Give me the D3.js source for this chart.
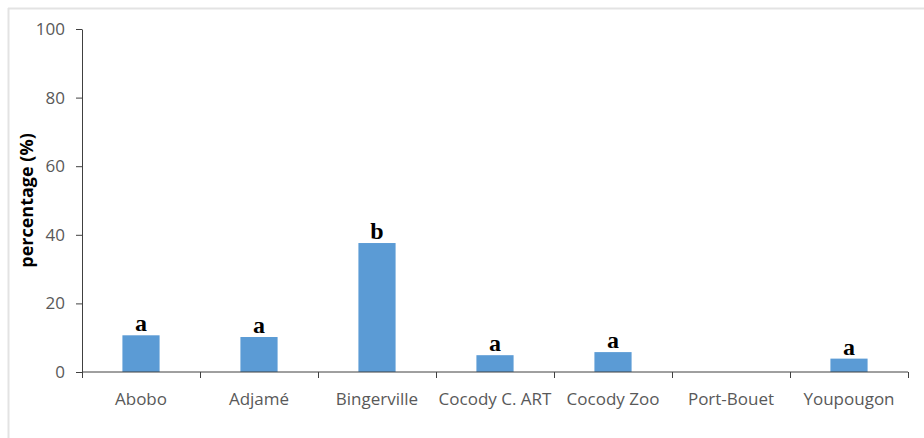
<!DOCTYPE html>
<html>
<head>
<meta charset="utf-8">
<script src="https://cdn.jsdelivr.net/npm/d3@7"></script>
<style>
  body { margin: 0; background: #fff; }
  svg { display: block; }
</style>
</head>
<body>
<script>
// data
const sites = ["Abobo", "Adjamé", "Bingerville", "Cocody C. ART", "Cocody Zoo", "Port-Bouet", "Youpougon"];
const percentages = [10.7, 10.2, 37.6, 4.9, 5.8, 0, 3.9];
const letters = ["a", "a", "b", "a", "a", "", "a"];
const yTicks = [0, 20, 40, 60, 80, 100];

const W = 924, H = 438;
const margin = { top: 29, right: 16, bottom: 66, left: 82 };
const width = W - margin.left - margin.right;
const height = H - margin.top - margin.bottom;

const root = d3.select("body").append("svg")
  .attr("width", W)
  .attr("height", H);

// light frame (top and left edges only, the picture is cropped)
root.append("line").attr("x1", 8).attr("x2", W).attr("y1", 8.5).attr("y2", 8.5)
  .attr("stroke", "#e3e3e3").attr("stroke-width", 2);
root.append("line").attr("x1", 8.5).attr("x2", 8.5).attr("y1", 8).attr("y2", H)
  .attr("stroke", "#e3e3e3").attr("stroke-width", 2);

const svg = root.append("g")
  .attr("transform", `translate(${margin.left},${margin.top})`);

const x = d3.scaleBand()
  .domain(sites)
  .range([0, width])
  .padding(0);

const y = d3.scaleLinear()
  .domain([0, 100])
  .range([height, 0]);

const barW = x.bandwidth() * 0.315;

// bars
svg.selectAll("rect.bar")
  .data(sites)
  .enter().append("rect")
  .attr("class", "bar")
  .attr("x", (d) => x(d) + x.bandwidth() / 2 - barW / 2)
  .attr("width", barW)
  .attr("y", (d, i) => y(percentages[i]))
  .attr("height", (d, i) => height - y(percentages[i]))
  .attr("fill", "#5b9bd5");

// significance letters
svg.selectAll("text.letter")
  .data(sites)
  .enter().append("text")
  .attr("class", "letter")
  .attr("x", (d) => x(d) + x.bandwidth() / 2)
  .attr("y", (d, i) => y(percentages[i]) - 4)
  .attr("text-anchor", "middle")
  .style("font-family", "'Liberation Serif', serif")
  .style("font-weight", "bold")
  .style("font-size", "24px")
  .attr("fill", "#000")
  .text((d, i) => letters[i]);

// y axis
const yAxis = svg.append("g")
  .call(d3.axisLeft(y).tickValues(yTicks).tickSize(6).tickPadding(11).tickSizeOuter(0));
yAxis.select(".domain").attr("stroke", "#404040");
yAxis.selectAll(".tick line").attr("stroke", "#404040");
yAxis.selectAll(".tick text")
  .attr("fill", "#595959")
  .style("font-family", "'Open Sans', sans-serif")
  .style("font-size", "17px");

// x axis: ticks at band edges
const xAxis = svg.append("g")
  .attr("transform", `translate(0,${height})`);
xAxis.append("line")
  .attr("x1", 0).attr("x2", width)
  .attr("stroke", "#404040");
const edges = sites.map((d) => x(d)).concat([width]);
xAxis.selectAll("line.xt")
  .data(edges)
  .enter().append("line")
  .attr("class", "xt")
  .attr("x1", (d) => d + 0.5).attr("x2", (d) => d + 0.5)
  .attr("y1", 0).attr("y2", 6)
  .attr("stroke", "#404040");
xAxis.selectAll("text")
  .data(sites)
  .enter().append("text")
  .attr("x", (d) => x(d) + x.bandwidth() / 2)
  .attr("y", 33)
  .attr("text-anchor", "middle")
  .attr("fill", "#595959")
  .style("font-family", "'Open Sans', sans-serif")
  .style("font-size", "17px")
  .text((d) => d);

// y axis title
svg.append("text")
  .attr("transform", `translate(-49,${height / 2}) rotate(-90)`)
  .attr("text-anchor", "middle")
  .style("font-family", "'Open Sans', sans-serif")
  .style("font-weight", "bold")
  .style("font-size", "18px")
  .attr("fill", "#000")
  .text("percentage (%)");
</script>
</body>
</html>
